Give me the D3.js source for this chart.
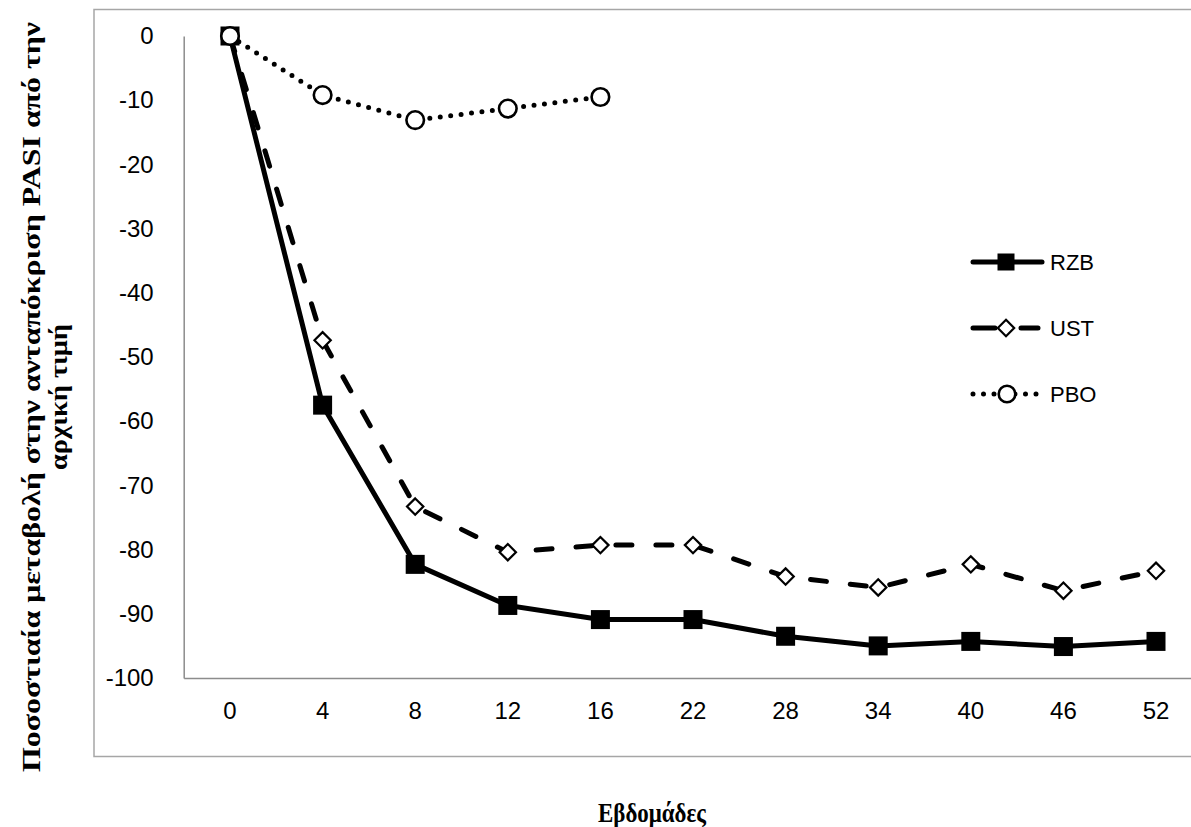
<!DOCTYPE html>
<html>
<head>
<meta charset="utf-8">
<script src="https://cdn.jsdelivr.net/npm/d3@7"></script>
<style>
  body { margin: 0; background: #fff; }
  svg { display: block; }
</style>
</head>
<body>
<svg id="chart" width="1191" height="827"></svg>
<script>
// data
var weeks = ['0', '4', '8', '12', '16', '22', '28', '34', '40', '46', '52'];
var rzb = [0, -57.5, -82.3, -88.7, -90.9, -90.9, -93.5, -95.0, -94.3, -95.1, -94.3];
var ust = [0, -47.4, -73.3, -80.4, -79.3, -79.3, -84.2, -85.9, -82.3, -86.4, -83.3];
var pbo = [0, -9.2, -13.1, -11.3, -9.5];
var yTicks = [0, -10, -20, -30, -40, -50, -60, -70, -80, -90, -100];
var seriesNames = ['RZB', 'UST', 'PBO'];

var margin = { top: 36, left: 183.7, bottom: 678 };
var width = 11 * 92.6;

var svg = d3.select('#chart');

// outer chart frame
svg.append('rect')
    .attr('x', 94).attr('y', 9.5)
    .attr('width', 1120).attr('height', 747)
    .attr('fill', 'none')
    .attr('stroke', '#a6a6a6')
    .attr('stroke-width', 1.5);

var x = d3.scaleBand().domain(weeks).range([margin.left, margin.left + width]);
var y = d3.scaleLinear().domain([-100, 0]).range([margin.bottom, margin.top]);

var tickFont = '"Liberation Sans", Arial, sans-serif';

// y axis
var yAxis = svg.append('g')
    .attr('transform', 'translate(' + margin.left + ',0)')
    .call(d3.axisLeft(y).tickValues(yTicks).tickSize(0).tickPadding(30)
        .tickFormat(function (d) { return String(d); }));
yAxis.select('.domain').attr('stroke', '#8c8c8c').attr('stroke-width', 1.5);
yAxis.selectAll('text')
    .attr('font-family', tickFont)
    .attr('font-size', 24)
    .attr('fill', '#000');

// x axis
var xAxis = svg.append('g')
    .attr('transform', 'translate(0,' + margin.bottom + ')')
    .call(d3.axisBottom(x).tickSize(0).tickPadding(24));
xAxis.select('.domain').attr('stroke', '#8c8c8c').attr('stroke-width', 1.5);
xAxis.selectAll('text')
    .attr('font-family', tickFont)
    .attr('font-size', 24)
    .attr('fill', '#000');

function cx(d, i) { return x(weeks[i]) + x.bandwidth() / 2; }

var line = d3.line()
    .x(function (d, i) { return cx(d, i); })
    .y(function (d) { return y(d); });

// RZB
svg.append('path')
    .datum(rzb)
    .attr('fill', 'none')
    .attr('stroke', '#000')
    .attr('stroke-width', 5)
    .attr('stroke-linejoin', 'round')
    .attr('d', line);
svg.selectAll('.rzb')
    .data(rzb).enter().append('rect')
    .attr('class', 'rzb')
    .attr('x', function (d, i) { return cx(d, i) - 9.5; })
    .attr('y', function (d) { return y(d) - 9.5; })
    .attr('width', 19).attr('height', 19)
    .attr('fill', '#000');

// UST
svg.append('path')
    .datum(ust)
    .attr('fill', 'none')
    .attr('stroke', '#000')
    .attr('stroke-width', 5)
    .attr('stroke-dasharray', '16,24')
    .attr('stroke-linecap', 'round')
    .attr('d', line);
var diamond = d3.symbol().type(d3.symbolDiamond2).size(170);
svg.selectAll('.ust')
    .data(ust).enter().append('path')
    .attr('class', 'ust')
    .attr('transform', function (d, i) { return 'translate(' + cx(d, i) + ',' + y(d) + ')'; })
    .attr('d', diamond)
    .attr('fill', '#fff')
    .attr('stroke', '#000')
    .attr('stroke-width', 2.2);

// PBO
svg.append('path')
    .datum(pbo)
    .attr('fill', 'none')
    .attr('stroke', '#000')
    .attr('stroke-width', 5)
    .attr('stroke-dasharray', '0,10.5')
    .attr('stroke-linecap', 'round')
    .attr('d', line);
svg.selectAll('.pbo')
    .data(pbo).enter().append('circle')
    .attr('class', 'pbo')
    .attr('cx', function (d, i) { return cx(d, i); })
    .attr('cy', function (d) { return y(d); })
    .attr('r', 8.8)
    .attr('fill', '#fff')
    .attr('stroke', '#000')
    .attr('stroke-width', 2.6);

// legend
var legend = svg.append('g').attr('transform', 'translate(971,262)');
var dashes = [null, '22,26', '0,10.5'];
seriesNames.forEach(function (name, i) {
    var g = legend.append('g').attr('transform', 'translate(0,' + (i * 66) + ')');
    g.append('line')
        .attr('x1', 2).attr('x2', i === 1 ? 67 : 71)
        .attr('stroke', '#000')
        .attr('stroke-width', 5)
        .attr('stroke-linecap', 'round')
        .attr('stroke-dasharray', dashes[i]);
    if (i === 0) {
        g.append('rect').attr('x', 26.5).attr('y', -8.5).attr('width', 17).attr('height', 17).attr('fill', '#000');
    } else if (i === 1) {
        g.append('path').attr('transform', 'translate(35,0)').attr('d', diamond)
            .attr('fill', '#fff').attr('stroke', '#000').attr('stroke-width', 2.2);
    } else {
        g.append('circle').attr('cx', 36).attr('r', 8.3)
            .attr('fill', '#fff').attr('stroke', '#000').attr('stroke-width', 2.6);
    }
    g.append('text')
        .attr('x', 79).attr('dy', '0.36em')
        .attr('font-family', tickFont)
        .attr('font-size', 22)
        .text(name);
});

// axis titles
var titleFont = '"Liberation Serif", "Times New Roman", serif';
svg.append('text')
    .attr('x', 652).attr('y', 822)
    .attr('text-anchor', 'middle')
    .attr('font-family', titleFont)
    .attr('font-weight', 'bold')
    .attr('font-size', 27)
    .attr('textLength', 108)
    .attr('lengthAdjust', 'spacingAndGlyphs')
    .text('Εβδομάδες');

var yTitle = svg.append('g').attr('transform', 'translate(0,397) rotate(-90)');
yTitle.append('text')
    .attr('x', 0).attr('y', 40)
    .attr('text-anchor', 'middle')
    .attr('font-family', titleFont)
    .attr('font-weight', 'bold')
    .attr('font-size', 25)
    .attr('textLength', 750)
    .attr('lengthAdjust', 'spacingAndGlyphs')
    .text('Ποσοστιαία μεταβολή στην ανταπόκριση PASI από την');
yTitle.append('text')
    .attr('x', 0).attr('y', 67)
    .attr('text-anchor', 'middle')
    .attr('font-family', titleFont)
    .attr('font-weight', 'bold')
    .attr('font-size', 25)
    .attr('textLength', 146)
    .attr('lengthAdjust', 'spacingAndGlyphs')
    .text('αρχική τιμή');
</script>
</body>
</html>
